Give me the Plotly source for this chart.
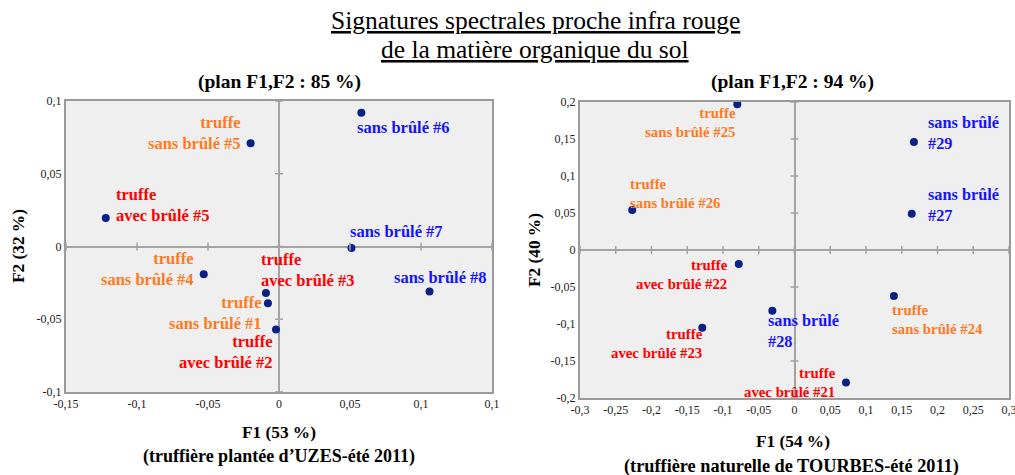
import plotly.graph_objects as go

# ---------------- data ----------------
# Left: truffière plantée d'UZES
uz_labels = ["truffe<br>sans brûlé #5", "truffe<br>avec brûlé #5", "sans brûlé #6", "sans brûlé #7",
             "sans brûlé #8", "truffe<br>sans brûlé #4", "truffe<br>avec brûlé #3",
             "truffe<br>sans brûlé #1", "truffe<br>avec brûlé #2"]
uz_f1 = [-0.020, -0.122, 0.058, 0.051, 0.106, -0.053, -0.0092, -0.0078, -0.0021]
uz_f2 = [0.071, 0.0196, 0.092, -0.001, -0.031, -0.019, -0.032, -0.039, -0.057]
uz_group = ["ts", "ta", "s", "s", "s", "ts", "ta", "ts", "ta"]

# Right: truffière naturelle de TOURBES
tb_labels = ["truffe<br>sans brûlé #25", "truffe<br>sans brûlé #26", "sans brûlé<br>#29", "sans brûlé<br>#27",
             "truffe<br>avec brûlé #22", "truffe<br>avec brûlé #23", "sans brûlé<br>#28",
             "truffe<br>sans brûlé #24", "truffe<br>avec brûlé #21"]
tb_f1 = [-0.080, -0.227, 0.167, 0.164, -0.078, -0.129, -0.031, 0.139, 0.072]
tb_f2 = [0.197, 0.054, 0.146, 0.049, -0.019, -0.105, -0.082, -0.062, -0.179]
tb_group = ["ts", "ts", "s", "s", "ta", "ta", "s", "ts", "ta"]

uz_xticks = [-0.15, -0.1, -0.05, 0, 0.05, 0.1, 0.15]
uz_xtext = ["-0,15", "-0,1", "-0,05", "0", "0,05", "0,1", "0,1"]
uz_yticks = [-0.1, -0.05, 0, 0.05, 0.1]
uz_ytext = ["-0,1", "-0,05", "0", "0,05", "0,1"]

tb_xticks = [-0.3, -0.25, -0.2, -0.15, -0.1, -0.05, 0, 0.05, 0.1, 0.15, 0.2, 0.25, 0.3]
tb_xtext = ["-0,3", "-0,25", "-0,2", "-0,15", "-0,1", "-0,05", "0", "0,05", "0,1", "0,15", "0,2", "0,25", "0,3"]
tb_yticks = [-0.2, -0.15, -0.1, -0.05, 0, 0.05, 0.1, 0.15, 0.2]
tb_ytext = ["-0,2", "-0,15", "-0,1", "-0,05", "0", "0,05", "0,1", "0,15", "0,2"]

# ---------------- style ----------------
COLORS = {"ts": "#ff7a1f", "ta": "#ff0000", "s": "#1414ff"}
TB_SIZE = {"ts": 14.8, "ta": 14.8, "s": 16.3}
MARK = "#0a2185"
SERIF = "Liberation Serif"
GRID = "#a3a3a3"

# label placement (anchor, xshift, yshift) in pixels
uz_place = [("right", -8, 10), ("left", 8, 13), ("left", -6, -15), ("left", -3, 16),
            ("center", 11, 14), ("right", -8, 5), ("left", -7, 23),
            ("right", -4, -10), ("right", -2, -23)]
tb_place = [("right", 1, -18), ("left", -4, 17), ("left", 12, 9), ("left", 14, 9),
            ("right", -9, -10), ("right", 3, -16), ("left", -6, -20),
            ("left", -4, -24), ("right", -8, 0)]

fig = go.Figure()
fig.add_trace(go.Scatter(x=uz_f1, y=uz_f2, mode="markers", xaxis="x", yaxis="y",
                         marker=dict(color=MARK, size=8), hoverinfo="skip", showlegend=False))
fig.add_trace(go.Scatter(x=tb_f1, y=tb_f2, mode="markers", xaxis="x2", yaxis="y2",
                         marker=dict(color=MARK, size=8), hoverinfo="skip", showlegend=False))

ann = []
for lab, x, y, g, (anc, dx, dy) in zip(uz_labels, uz_f1, uz_f2, uz_group, uz_place):
    ann.append(dict(x=x, y=y, xref="x", yref="y", text="<b>" + lab + "</b>", showarrow=False,
                    xanchor=anc, yanchor="middle", align=anc if anc != "center" else "center",
                    xshift=dx, yshift=dy, font=dict(family=SERIF, size=16.5, color=COLORS[g])))
for lab, x, y, g, (anc, dx, dy) in zip(tb_labels, tb_f1, tb_f2, tb_group, tb_place):
    ann.append(dict(x=x, y=y, xref="x2", yref="y2", text="<b>" + lab + "</b>", showarrow=False,
                    xanchor=anc, yanchor="middle", align=anc if anc != "center" else "center",
                    xshift=dx, yshift=dy, font=dict(family=SERIF, size=TB_SIZE[g], color=COLORS[g])))

W, H = 1015, 475


def pann(text, px, py, size, bold=True, angle=0):
    t = "<b>" + text + "</b>" if bold else text
    return dict(x=px / W, y=1 - py / H, xref="paper", yref="paper", text=t, showarrow=False,
                xanchor="center", yanchor="middle", textangle=angle,
                font=dict(family=SERIF, size=size, color="black"))


ann += [
    pann("<u>Signatures spectrales proche infra rouge</u>", 535, 20, 25.5, bold=False),
    pann("<u>de la matière organique du sol</u>", 535, 49, 25.5, bold=False),
    pann("(plan F1,F2 : 85 %)", 279, 82, 19.5),
    pann("(plan F1,F2 : 94 %)", 792, 82, 19.5),
    pann("F2 (32 %)", 18, 246, 17.3, angle=-90),
    pann("F2 (40 %)", 534, 250, 17.3, angle=-90),
    pann("F1 (53 %)", 279, 432, 17.3),
    pann("(truffière plantée d’UZES-été 2011)", 279, 456, 18),
    pann("F1 (54 %)", 793, 441, 17.3),
    pann("(truffière naturelle de TOURBES-été 2011)", 791, 466, 18.3),
]

shapes = []
for xref, yref, xt, yt in [("x", "y", uz_xticks, uz_yticks), ("x2", "y2", tb_xticks, tb_yticks)]:
    for v in xt:
        shapes.append(dict(type="line", xref=xref, yref=yref, x0=v, x1=v, ysizemode="pixel",
                           yanchor=0, y0=-4, y1=4, line=dict(color=GRID, width=1.5), layer="above"))
    for v in yt:
        shapes.append(dict(type="line", xref=xref, yref=yref, y0=v, y1=v, xsizemode="pixel",
                           xanchor=0, x0=-4, x1=4, line=dict(color=GRID, width=1.5), layer="above"))

axis_common = dict(showgrid=False, zeroline=True, zerolinecolor=GRID, zerolinewidth=2,
                   showline=True, linecolor="#9a9a9a", linewidth=2, mirror=True, automargin=False,
                   tickmode="array", ticks="", ticklabeloverflow="allow",
                   tickfont=dict(family=SERIF, size=12, color="#222"))

fig.update_layout(
    width=W, height=H, margin=dict(l=0, r=0, t=0, b=0, autoexpand=False),
    font=dict(family=SERIF),
    paper_bgcolor="white", plot_bgcolor="#efefef",
    xaxis=dict(domain=[66 / W, 492 / W], range=[-0.15, 0.15], tickvals=uz_xticks, ticktext=uz_xtext,
               anchor="y", **axis_common),
    yaxis=dict(domain=[1 - 392 / H, 1 - 101 / H], range=[-0.1, 0.1], tickvals=uz_yticks, ticktext=uz_ytext,
               anchor="x", **axis_common),
    xaxis2=dict(domain=[580 / W, 1009 / W], range=[-0.3, 0.3], tickvals=tb_xticks, ticktext=tb_xtext,
                anchor="y2", **axis_common),
    yaxis2=dict(domain=[1 - 398 / H, 1 - 102 / H], range=[-0.2, 0.2], tickvals=tb_yticks, ticktext=tb_ytext,
                anchor="x2", **axis_common),
    annotations=ann, shapes=shapes,
)

fig.write_html("out.html")
